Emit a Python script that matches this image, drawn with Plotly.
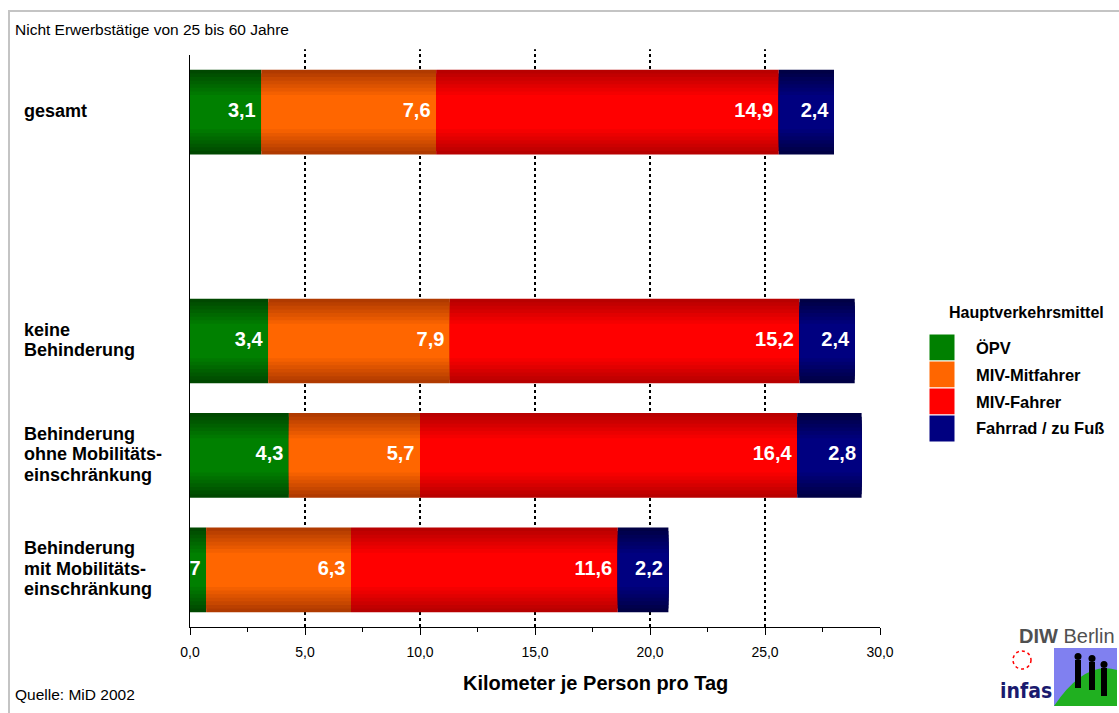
import plotly.graph_objects as go

# Daten: Kilometer je Person pro Tag, Nicht Erwerbstätige 25-60 Jahre
kategorien = ["gesamt", "keine Behinderung",
              "Behinderung ohne Mobilitätseinschränkung",
              "Behinderung mit Mobilitätseinschränkung"]
kategorie_text = ["gesamt", "keine<br>Behinderung",
                  "Behinderung<br>ohne Mobilitäts-<br>einschränkung",
                  "Behinderung<br>mit Mobilitäts-<br>einschränkung"]
serien = ["ÖPV", "MIV-Mitfahrer", "MIV-Fahrer", "Fahrrad / zu Fuß"]
oepv = [3.1, 3.4, 4.3, 0.7]
miv_mitfahrer = [7.6, 7.9, 5.7, 6.3]
miv_fahrer = [14.9, 15.2, 16.4, 11.6]
fahrrad_fuss = [2.4, 2.4, 2.8, 2.2]
werte = [oepv, miv_mitfahrer, miv_fahrer, fahrrad_fuss]

# Farben: Mitte / Rand (für den Schattierungseffekt)
farbe_mitte = ["#008000", "#ff6600", "#ff0000", "#000080"]
farbe_rand = ["#004800", "#b03a00", "#b80000", "#000045"]

FONT = "Liberation Sans, Arial, sans-serif"

W, H = 1119, 713
L, R, T, B = 190, 880, 55, 627


def mix(c1, c2, t):
    a = [int(c1[i:i + 2], 16) for i in (1, 3, 5)]
    b = [int(c2[i:i + 2], 16) for i in (1, 3, 5)]
    return "rgb(%d,%d,%d)" % tuple(round(a[k] + (b[k] - a[k]) * t) for k in range(3))


def px_x(p):
    return (p - L) / (R - L)


def px_y(p):
    return (B - p) / (B - T)


def text_px(x, y, text, size, bold=False, xanchor="left", color="black", family=FONT):
    fig.add_annotation(x=px_x(x), y=px_y(y), xref="paper", yref="paper", text=text,
                       showarrow=False, xanchor=xanchor, yanchor="middle",
                       font=dict(family=family, size=size, color=color,
                                 weight="bold" if bold else "normal"))


fig = go.Figure()

n_layer = 8
basis = [0.0] * len(kategorien)
for s, name in enumerate(serien):
    vals = werte[s]
    for k in range(n_layer):
        t = k / (n_layer - 1)
        fig.add_trace(go.Bar(
            y=kategorien, x=vals, base=basis, orientation="h",
            width=0.74 - 0.44 * t,
            marker=dict(color=mix(farbe_rand[s], farbe_mitte[s], t), line=dict(width=0)),
            showlegend=False, hoverinfo="skip"))
    ende = [b + v for b, v in zip(basis, vals)]
    fig.add_trace(go.Scatter(
        y=kategorien, x=ende, mode="text",
        text=[("%.1f" % v).replace(".", ",") + "\u00a0" for v in vals],
        textposition="middle left",
        textfont=dict(family=FONT, size=20, color="white", weight="bold"),
        cliponaxis=True, showlegend=False, hoverinfo="skip"))
    basis = ende

# Gitterlinien (gepunktet)
for gx in [5, 10, 15, 20, 25]:
    fig.add_shape(type="line", xref="x", yref="paper", x0=gx, x1=gx, y0=0, y1=1.01,
                  line=dict(color="black", width=2, dash="dot"), layer="below")

# Kategorienbeschriftung links (zeilenweise, engerer Zeilenabstand)
for kat, txt in zip(kategorien, kategorie_text):
    zeilen = txt.split("<br>")
    n = len(zeilen)
    for i, z in enumerate(zeilen):
        fig.add_annotation(x=px_x(22), xref="paper", y=kat, yref="y", text=z,
                           showarrow=False, xanchor="left", yanchor="middle",
                           yshift=((n - 1) / 2 - i) * 20.5 + 1,
                           font=dict(family=FONT, size=18, color="black", weight="bold"))

# Legende (manuell)
text_px(1026, 312, "Hauptverkehrsmittel", 16, bold=True, xanchor="center")
leg_y = [334, 361, 388, 415]
for i, name in enumerate(serien):
    fig.add_shape(type="rect", xref="paper", yref="paper",
                  x0=px_x(929), x1=px_x(955), y0=px_y(leg_y[i]), y1=px_y(leg_y[i] + 27),
                  fillcolor=farbe_mitte[i], line=dict(width=1, color="white"))
    text_px(974, leg_y[i] + 13.5, name, 16.5, bold=True)

# Rahmen
fig.add_shape(type="line", xref="paper", yref="paper", x0=px_x(8), x1=px_x(1125),
              y0=px_y(11), y1=px_y(11), line=dict(color="#c4c4c4", width=2))
fig.add_shape(type="line", xref="paper", yref="paper", x0=px_x(9), x1=px_x(9),
              y0=px_y(11), y1=px_y(720), line=dict(color="#c4c4c4", width=2))

# Titel, Achsentitel, Quelle
text_px(13, 29, "Nicht Erwerbstätige von 25 bis 60 Jahre", 15.5)
text_px(13, 694, "Quelle: MiD 2002", 15.5)
text_px(595, 683, "Kilometer je Person pro Tag", 20, bold=True, xanchor="center")

# Logo (vereinfacht)
fig.add_shape(type="rect", xref="paper", yref="paper", x0=px_x(1054), x1=px_x(1117),
              y0=px_y(648), y1=px_y(706), fillcolor="#8080f0", line=dict(width=0))
fig.add_shape(type="path", xref="paper", yref="paper",
              path="M %f,%f Q %f,%f %f,%f L %f,%f Z" % (
                  px_x(1054), px_y(706), px_x(1085), px_y(660), px_x(1117), px_y(670),
                  px_x(1117), px_y(706)),
              fillcolor="#20b020", line=dict(width=0))
for hx, hy in [(1078, 660), (1092, 662), (1104, 668)]:
    fig.add_shape(type="rect", xref="paper", yref="paper", x0=px_x(hx - 3), x1=px_x(hx + 3),
                  y0=px_y(hy + 28), y1=px_y(hy), fillcolor="black", line=dict(width=0))
    fig.add_shape(type="circle", xref="paper", yref="paper", x0=px_x(hx - 3.5), x1=px_x(hx + 3.5),
                  y0=px_y(hy), y1=px_y(hy - 7), fillcolor="black", line=dict(width=0))
fig.add_shape(type="circle", xref="paper", yref="paper", x0=px_x(1013), x1=px_x(1031),
              y0=px_y(651), y1=px_y(669), line=dict(color="red", width=1.5, dash="dot"))
text_px(1117, 636, "<b>DIW</b> Berlin", 20, xanchor="right", color="#505050")
text_px(1026, 691, "<b>infas</b>", 21, xanchor="center", color="#1a1a6e",
        family="DejaVu Sans Condensed, " + FONT)

fig.update_layout(
    barmode="overlay",
    width=W, height=H,
    margin=dict(l=L, r=W - R, t=T, b=H - B),
    paper_bgcolor="white", plot_bgcolor="white",
    separators=",.",
    showlegend=False,
    font=dict(family=FONT, color="black"),
    xaxis=dict(range=[0, 30], dtick=5, tickformat=".1f", showgrid=False, zeroline=False,
               showline=True, linecolor="black", linewidth=1,
               ticks="outside", ticklen=7, tickcolor="black", ticklabelstandoff=5,
               minor=dict(ticks="outside", ticklen=4, dtick=2.5, tickcolor="black"),
               tickfont=dict(family=FONT, size=14, color="black")),
    yaxis=dict(type="category",
               categoryarray=[kategorien[0], " ", kategorien[1], kategorien[2], kategorien[3]],
               categoryorder="array", autorange="reversed", range=[4.5, -0.5],
               showticklabels=False, showgrid=False, zeroline=False,
               showline=True, linecolor="black", linewidth=1, ticks=""),
)

# Seitenrand entfernen, damit die Grafik genau das Fenster füllt
fig.write_html("out.html", config={"displayModeBar": False},
               post_script="document.body.style.margin='0';")
